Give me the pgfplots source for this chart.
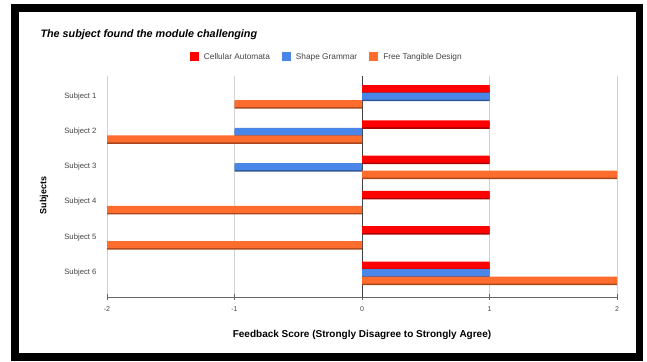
\documentclass[border=0pt]{standalone}
\usepackage{pgfplots}
\pgfplotsset{compat=1.18}
\usepackage{fontspec}
\setmainfont{Liberation Sans}
\definecolor{cared}{HTML}{FF0000}
\definecolor{caredd}{HTML}{A80000}
\definecolor{sgblue}{HTML}{4A86E8}
\definecolor{sgblued}{HTML}{2D5699}
\definecolor{ftor}{HTML}{FF6D2E}
\definecolor{ftord}{HTML}{A8461C}
\definecolor{txtgray}{HTML}{444444}
\begin{document}
\begin{tikzpicture}
\useasboundingbox (0,0) rectangle (647pt,361pt);
\fill[black] (11pt,0pt) rectangle (643pt,357pt);
\fill[white] (19pt,8pt) rectangle (636pt,349pt);
\node[anchor=west,font=\fontsize{10.8}{12}\selectfont\bfseries\itshape] at (37pt,326pt) {The subject found the module challenging};
\begin{axis}[
  at={(107pt,64pt)}, anchor=south west,
  width=510pt, height=221pt, scale only axis,
  xbar, bar width=7pt,
  xmin=-2, xmax=2, ymin=0.433, ymax=6.694, y dir=reverse,
  xtick={-2,-1,0,1,2},
  ytick={1,2,3,4,5,6},
  yticklabels={Subject 1,Subject 2,Subject 3,Subject 4,Subject 5,Subject 6},
  axis x line*=bottom, axis y line*=left,
  x axis line style={draw=black!60, line width=0.8pt, -},
  y axis line style={draw=none},
  xmajorgrids, grid style={draw=black!18, line width=0.6pt},
  extra x ticks={0}, extra x tick labels={},
  extra x tick style={grid style={draw=black!75, line width=0.7pt}, major tick length=0pt},
  tick align=center, major tick length=6pt,
  xtick style={draw=black!60, line width=0.6pt},
  ytick style={draw=none},
  /pgf/number format/assume math mode=true,
  xticklabel style={font=\fontsize{7}{8}\selectfont, text=txtgray, yshift=-3pt},
  yticklabel style={font=\fontsize{7.7}{9}\selectfont, text=txtgray, xshift=-4pt},
  xlabel={Feedback Score (Strongly Disagree to Strongly Agree)},
  xlabel style={at={(axis description cs:0.5,-0.17)}, anchor=center, font=\fontsize{10}{12}\selectfont\bfseries},
  ylabel={Subjects},
  ylabel style={at={(axis description cs:-0.1235,0.46)}, anchor=center, font=\fontsize{9}{10}\selectfont\bfseries},
  legend columns=3,
  legend style={at={(axis description cs:0.431,1.086)}, anchor=center, draw=none, fill=none,
    font=\fontsize{8.3}{10}\selectfont, text=txtgray,
    /tikz/every even column/.append style={column sep=10pt},
    /tikz/every odd column/.append style={column sep=3pt}},
  legend image code/.code={\fill[#1] (0pt,-4.5pt) rectangle (9pt,4.5pt);},
]
% shadows
\addplot[draw=none, fill=caredd, bar shift=6pt, forget plot] coordinates {(1,1) (1,2) (1,3) (1,4) (1,5) (1,6)};
\addplot[draw=none, fill=sgblued, bar shift=-1.5pt, forget plot] coordinates {(1,1) (-1,2) (-1,3) (0,4) (0,5) (1,6)};
\addplot[draw=none, fill=ftord, bar shift=-9pt, forget plot] coordinates {(-1,1) (-2,2) (2,3) (-2,4) (-2,5) (2,6)};
% bars
\addplot[draw=none, fill=cared, bar shift=7.5pt] coordinates {(1,1) (1,2) (1,3) (1,4) (1,5) (1,6)};
\addplot[draw=none, fill=sgblue, bar shift=0pt] coordinates {(1,1) (-1,2) (-1,3) (0,4) (0,5) (1,6)};
\addplot[draw=none, fill=ftor, bar shift=-7.5pt] coordinates {(-1,1) (-2,2) (2,3) (-2,4) (-2,5) (2,6)};
\legend{Cellular Automata, Shape Grammar, Free Tangible Design}
\end{axis}
\end{tikzpicture}
\end{document}
